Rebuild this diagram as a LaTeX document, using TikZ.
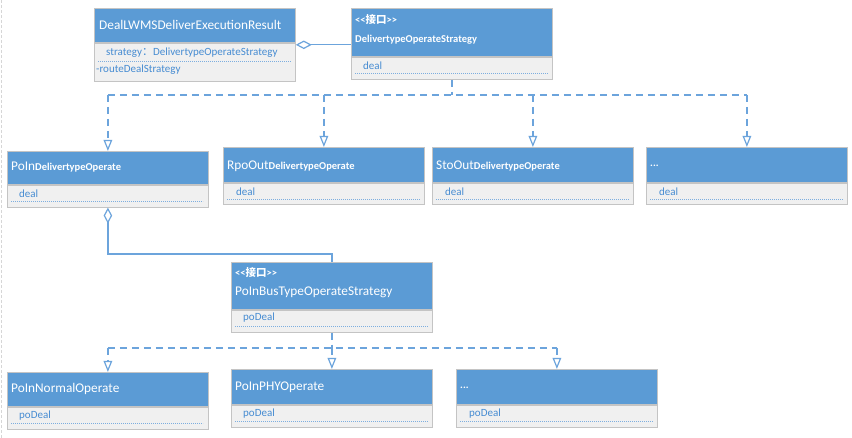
\documentclass[tikz,border=0pt]{standalone}
\usepackage{fontspec}
\setmainfont{Carlito}
\newfontfamily\cjk{Noto Sans CJK SC}
\usetikzlibrary{arrows.meta}
\definecolor{hdrblue}{RGB}{91,155,213}
\definecolor{cmpgray}{RGB}{240,240,240}
\definecolor{bordergray}{RGB}{196,196,196}
\definecolor{lineblue}{RGB}{108,164,220}
\definecolor{txtblue}{RGB}{70,140,210}
\tikzset{
  hdrbox/.style={draw=bordergray, fill=hdrblue, line width=0.8pt, minimum width=201pt, inner sep=0pt, anchor=north west},
  cmpbox/.style={draw=bordergray, fill=cmpgray, line width=0.8pt, minimum width=201pt, inner sep=0pt, anchor=north west},
  dotsep/.style={txtblue!70, line width=1pt, dash pattern=on 1.2pt off 0.8pt},
  htext/.style={text=white, font=\fontsize{13.3}{15}\selectfont, anchor=west, inner sep=0pt},
  hsmall/.style={text=white, font=\fontsize{10.5}{12}\selectfont\bfseries, anchor=west, inner sep=0pt},
  ctext/.style={text=txtblue, font=\fontsize{11}{13}\selectfont, anchor=west, inner sep=0pt},
  depline/.style={lineblue, line width=1.2pt, dash pattern=on 7pt off 5pt},
  deparrow/.style={lineblue, line width=1.2pt, dash pattern=on 7pt off 5pt, -{Triangle[open, length=11pt, width=8.5pt, fill=white]}},
  aggline/.style={lineblue, line width=1.2pt, {Diamond[open, length=16pt, width=8.5pt, fill=white]}-},
}
\newcommand\sm[1]{{\fontsize{10.5}{12}\selectfont\bfseries #1}}
\begin{document}
\begin{tikzpicture}[x=1pt,y=-1pt]
\useasboundingbox[fill=white] (0,0) rectangle (852,438);
\draw[bordergray!70, line width=0.8pt, dash pattern=on 3pt off 2pt] (1,0) -- (1,438);

% ---- class boxes ----
% DealLWMSDeliverExecutionResult
\node[hdrbox, minimum height=34pt] (b1h) at (94,8) {};
\node[cmpbox, minimum height=38pt] (b1c) at (b1h.south west) {};
\draw[dotsep] (98,62) -- (291,62);
\node[htext] (b1t) at (99,25) {DealLWMSDeliverExecutionResult};
\node[ctext] (b1a) at (106,53) {strategy{\cjk ：}DelivertypeOperateStrategy};
\node[ctext] (b1b) at (96,70) {-{}routeDealStrategy};

% Interface DelivertypeOperateStrategy
\node[hdrbox, minimum height=48pt] (ifh) at (351,8) {};
\node[cmpbox, minimum height=22pt] (ifc) at (ifh.south west) {};
\draw[dotsep] (355,74) -- (548,74);
\node[hsmall] (ifs) at (355,20) {<{}<{\cjk 接口}>{}>};
\node[hsmall] (ift) at (355,40) {DelivertypeOperateStrategy};
\node[ctext] (ifd) at (363,66) {deal};

% PoIn
\node[hdrbox, minimum height=33pt] (pih) at (7,151) {};
\node[cmpbox, minimum height=22pt] (pic) at (pih.south west) {};
\draw[dotsep] (11,202) -- (203,202);
\node[htext] (pit) at (11,167) {PoIn\sm{DelivertypeOperate}};
\node[ctext] (pid) at (19,194) {deal};

% RpoOut
\node[hdrbox, minimum height=35pt] (rph) at (223,147) {};
\node[cmpbox, minimum height=21pt] (rpc) at (rph.south west) {};
\draw[dotsep] (227,200) -- (420,200);
\node[htext] (rpt) at (227,166) {RpoOut\sm{DelivertypeOperate}};
\node[ctext] (rpd) at (236,192) {deal};

% StoOut
\node[hdrbox, minimum height=35pt] (sth) at (432,147) {};
\node[cmpbox, minimum height=21pt] (stc) at (sth.south west) {};
\draw[dotsep] (436,200) -- (629,200);
\node[htext] (stt) at (436,166) {StoOut\sm{DelivertypeOperate}};
\node[ctext] (std) at (445,192) {deal};

% ... (first level)
\node[hdrbox, minimum height=35pt] (d1h) at (646,147) {};
\node[cmpbox, minimum height=21pt] (d1c) at (d1h.south west) {};
\draw[dotsep] (650,200) -- (843,200);
\node[hsmall] (d1t) at (650,166) {...};
\node[ctext] (d1d) at (659,192) {deal};

% Interface PoInBusTypeOperateStrategy
\node[hdrbox, minimum height=47pt] (bsh) at (231,262) {};
\node[cmpbox, minimum height=22pt] (bsc) at (bsh.south west) {};
\draw[dotsep] (235,327) -- (428,327);
\node[hsmall] (bss) at (235,273) {<{}<{\cjk 接口}>{}>};
\node[htext] (bst) at (235,292) {PoInBusTypeOperateStrategy};
\node[ctext] (bsd) at (243,318) {poDeal};

% PoInNormalOperate
\node[hdrbox, minimum height=34pt] (nmh) at (7,372) {};
\node[cmpbox, minimum height=22pt] (nmc) at (nmh.south west) {};
\draw[dotsep] (11,424) -- (203,424);
\node[htext] (nmt) at (11,389) {PoInNormalOperate};
\node[ctext] (nmd) at (19,416) {poDeal};

% PoInPHYOperate
\node[hdrbox, minimum height=35pt] (phh) at (231,369) {};
\node[cmpbox, minimum height=22pt] (phc) at (phh.south west) {};
\draw[dotsep] (235,422) -- (428,422);
\node[htext] (pht) at (235,387) {PoInPHYOperate};
\node[ctext] (phd) at (243,414) {poDeal};

% ... (second level)
\node[hdrbox, minimum height=35pt] (d2h) at (456,369) {};
\node[cmpbox, minimum height=22pt] (d2c) at (d2h.south west) {};
\draw[dotsep] (460,422) -- (653,422);
\node[hsmall] (d2t) at (460,388) {...};
\node[ctext] (d2d) at (469,414) {poDeal};

% ---- connectors ----
% aggregation DealLWMS -> interface
\draw[aggline] ([yshift=-2pt]b1c.north east) -- ([yshift=-2pt]b1c.north east -| ifh.west);

% realization tree 1
\coordinate (j1) at (ifc.south |- 0,95);
\draw[depline] (ifc.south) -- (j1);
\draw[depline] (pih.north |- j1) -- (d1h.north |- j1);
\draw[deparrow] (pih.north |- j1) -- (pih.north);
\draw[deparrow] (rph.north |- j1) -- (rph.north);
\draw[deparrow] (sth.north |- j1) -- (sth.north);
\draw[deparrow] (d1h.north |- j1) -- (d1h.north);

% aggregation PoIn -> PoInBus
\coordinate (k1) at (pic.south |- 0,254);
\draw[aggline] (pic.south) -- (k1) -| (bsh.north);

% realization tree 2
\coordinate (j2) at (bsc.south |- 0,348);
\draw[depline] (bsc.south) -- (j2);
\draw[depline] (nmh.north |- j2) -- (d2h.north |- j2);
\draw[deparrow] (nmh.north |- j2) -- (nmh.north);
\draw[deparrow] (phh.north |- j2) -- (phh.north);
\draw[deparrow] (d2h.north |- j2) -- (d2h.north);
\end{tikzpicture}
\end{document}
